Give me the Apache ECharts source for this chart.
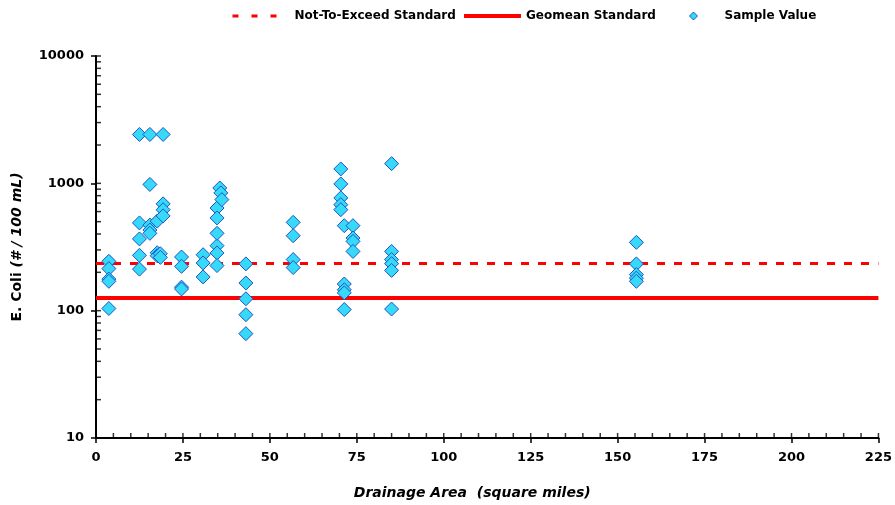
<!DOCTYPE html>
<html><head><meta charset="utf-8">
<script src="https://cdn.jsdelivr.net/npm/echarts@6/dist/echarts.min.js"></script>
<style>html,body{margin:0;padding:0;background:#fff}#c{width:895px;height:505px}</style>
</head><body><div id="c"></div>
<script>
// Sample data: [drainage area (sq mi), E. coli (#/100 mL)]
const sampleX = [3.7,3.7,3.7,3.7,3.7,
  12.5,12.5,12.5,12.5,12.5,
  15.5,15.5,15.5,15.5,15.5,
  17.6,17.6,17.6,18.5,18.5,
  19.3,19.3,19.3,19.3,
  24.6,24.6,24.6,24.6,
  30.8,30.8,30.8,
  34.8,34.8,34.8,34.8,34.8,34.8,
  35.6,35.9,36.2,
  43.1,43.1,43.1,43.1,43.1,
  56.7,56.7,56.7,56.7,
  70.4,70.4,70.4,70.4,70.4,
  71.4,71.4,71.4,71.4,71.4,
  73.9,73.9,73.9,73.9,
  85,85,85,85,85,85,
  155.4,155.4,155.4,155.4,155.4];
const sampleY = [244,214,177,170,104,
  2420,489,366,272,212,
  2420,980,470,430,405,
  505,285,270,280,262,
  2420,690,620,555,
  264,223,153,148,
  275,237,184,
  324,284,226,640,535,405,
  920,841,745,
  233,165,124,93,66,
  494,388,252,218,
  1297,989,768,680,621,
  465,162,146,138,102,
  465,372,350,292,
  1428,292,252,234,207,103,
  344,233,192,180,170];
const nteValue = 235;      // Not-To-Exceed Standard
const geomeanValue = 126;  // Geomean Standard
const xRange = [0, 225];
const yMinorTicks = [10,20,30,40,50,60,70,80,90,100,200,300,400,500,600,700,800,900,1000,2000,3000,4000,5000,6000,7000,8000,9000,10000];
const xMinorTicks = [];
for (let v = 0; v <= 225; v += 5) xMinorTicks.push(v);

const points = sampleX.map((x, i) => [x, sampleY[i]]);
const FONT = '"DejaVu Sans", "Liberation Sans", Arial, sans-serif';
const legendText = { fontFamily: FONT, fontWeight: 'bold', fontSize: 12, color: '#000' };
const markerStyle = { color: '#36d9f7', borderColor: '#1f55c4', borderWidth: 1, opacity: 1 };

const chart = echarts.init(document.getElementById('c'));
chart.setOption({
  animation: false,
  backgroundColor: '#fff',
  grid: { left: 96, right: 16, top: 56, bottom: 67 },
  legend: [
    {
      top: 5, left: 226, itemWidth: 57, itemHeight: 12, textStyle: legendText,
      data: [{ name: 'Not-To-Exceed Standard', itemStyle: { opacity: 0 },
        lineStyle: { color: '#ff0000', width: 3, type: [6, 13] } }]
    },
    {
      top: 5, left: 457, itemWidth: 57, itemHeight: 12, textStyle: legendText,
      data: [{ name: 'Geomean Standard', itemStyle: { opacity: 0 },
        lineStyle: { color: '#ff0000', width: 4 } }]
    },
    {
      top: 5, left: 684, itemWidth: 8, itemHeight: 8,
      textStyle: Object.assign({ padding: [0, 0, 0, 22] }, legendText),
      data: [{ name: 'Sample Value', icon: 'diamond', itemStyle: markerStyle }]
    }
  ],
  xAxis: {
    type: 'value', min: 0, max: 225, interval: 25,
    axisLine: { show: true, onZero: false, lineStyle: { color: '#000', width: 2 } },
    axisTick: { show: true, length: 5, lineStyle: { color: '#000', width: 1.5 } },
    splitLine: { show: false },
    axisLabel: { margin: 13, fontFamily: FONT, fontWeight: 'bold', fontSize: 13, color: '#000' },
    name: 'Drainage Area  (square miles)', nameLocation: 'middle', nameGap: 48,
    nameTextStyle: { fontFamily: FONT, fontWeight: 'bold', fontStyle: 'italic', fontSize: 14, color: '#000', padding: [0, 30, 0, 0] }
  },
  yAxis: {
    type: 'log', logBase: 10, min: 10, max: 10000,
    axisLine: { show: true, onZero: false, lineStyle: { color: '#000', width: 2 } },
    axisTick: { show: true, length: 5, lineStyle: { color: '#000', width: 1.5 } },
    splitLine: { show: false },
    axisLabel: { margin: 12, fontFamily: FONT, fontWeight: 'bold', fontSize: 13, color: '#000',
      formatter: v => String(Math.round(v)) },
    name: '{a|E. Coli }{b|(# / 100 mL)}', nameLocation: 'middle', nameGap: 72, nameRotate: 90,
    nameTextStyle: {
      rich: {
        a: { fontFamily: FONT, fontWeight: 'bold', fontSize: 14, color: '#000' },
        b: { fontFamily: FONT, fontWeight: 'bold', fontStyle: 'italic', fontSize: 14, color: '#000' }
      }
    }
  },
  series: [
    {
      name: 'Not-To-Exceed Standard', type: 'line', symbol: 'none', silent: true,
      data: [[xRange[0], nteValue], [xRange[1], nteValue]],
      lineStyle: { color: '#ff0000', width: 3, type: [8, 9] }, itemStyle: { color: '#ff0000' }, z: 2
    },
    {
      name: 'Geomean Standard', type: 'line', symbol: 'none', silent: true,
      data: [[xRange[0], geomeanValue], [xRange[1], geomeanValue]],
      lineStyle: { color: '#ff0000', width: 4 }, itemStyle: { color: '#ff0000' }, z: 2
    },
    {
      name: 'Sample Value', type: 'scatter', symbol: 'diamond', symbolSize: 14, data: points,
      itemStyle: markerStyle, z: 3
    },
    {
      name: 'yticks', type: 'scatter', silent: true, clip: false, symbol: 'rect',
      symbolSize: [5, 1.5], symbolOffset: [2.5, 0],
      data: yMinorTicks.map(v => [0, v]), itemStyle: { color: '#000' }, z: 4
    },
    {
      name: 'xticks', type: 'scatter', silent: true, clip: false, symbol: 'rect',
      symbolSize: [1.5, 5], symbolOffset: [0, -2.5],
      data: xMinorTicks.map(v => [v, 10]), itemStyle: { color: '#000' }, z: 4
    }
  ]
});
</script></body></html>
